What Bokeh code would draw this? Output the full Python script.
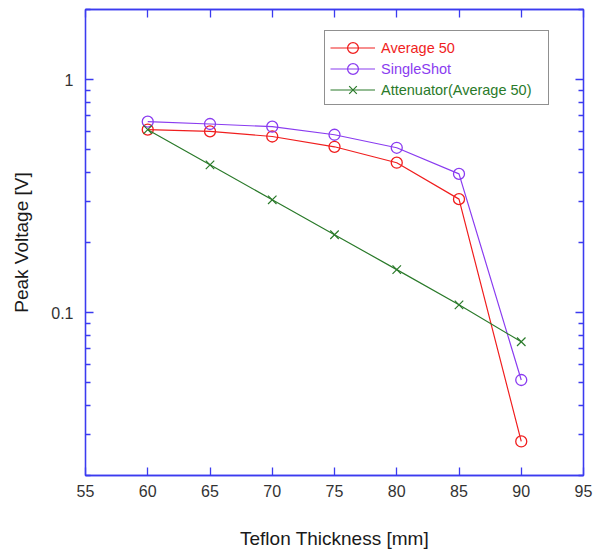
from bokeh.plotting import figure
from bokeh.models import (Range1d, LinearAxis, LogAxis, FixedTicker, Legend,
                          LegendItem, CustomJSTickFormatter)
from bokeh.embed import file_html
from bokeh.resources import INLINE

# ---- data ----
thickness = [60, 65, 70, 75, 80, 85, 90]
average50 = [0.61, 0.60, 0.57, 0.515, 0.44, 0.307, 0.028]
single_shot = [0.66, 0.645, 0.628, 0.58, 0.51, 0.394, 0.0514]
attenuator = [0.61, 0.431, 0.305, 0.216, 0.153, 0.108, 0.075]

x_ticks = [55, 60, 65, 70, 75, 80, 85, 90, 95]
y_major = [0.1, 1]
y_minor = [0.02, 0.03, 0.04, 0.05, 0.06, 0.07, 0.08, 0.09,
           0.2, 0.3, 0.4, 0.5, 0.6, 0.7, 0.8, 0.9, 2]

labels = ["Average 50", "SingleShot", "Attenuator(Average 50)"]

AXIS = "#3b3bf0"
RED = "#f01e1e"
PURPLE = "#8a3cf0"
GREEN = "#2a7a2a"
TICKTXT = "#333333"
FONT = "Liberation Sans"

p = figure(width=593, height=551, x_range=Range1d(55, 95), y_range=Range1d(0.02, 2),
           y_axis_type="log", output_backend="svg", toolbar_location=None,
           min_border_left=85, min_border_right=10, min_border_top=9, min_border_bottom=76)
p.grid.visible = False
p.outline_line_color = AXIS
p.outline_line_width = 1.3
p.background_fill_color = "white"
p.border_fill_color = "white"


def style_axis(ax, show_labels):
    ax.axis_line_color = AXIS
    ax.axis_line_width = 1.3
    ax.major_tick_line_color = AXIS
    ax.major_tick_line_width = 1.3
    ax.minor_tick_line_color = AXIS
    ax.minor_tick_line_width = 1.3
    ax.major_tick_in = 8
    ax.major_tick_out = 0
    ax.minor_tick_in = 5
    ax.minor_tick_out = 0
    if show_labels:
        ax.major_label_text_font = FONT
        ax.major_label_text_font_size = "16px"
        ax.major_label_text_color = TICKTXT
    else:
        ax.formatter = CustomJSTickFormatter(code="return ''")
        ax.major_label_text_font_size = "1px"
        ax.major_label_standoff = 0


xt = FixedTicker(ticks=x_ticks, minor_ticks=[])
yt = FixedTicker(ticks=y_major, minor_ticks=y_minor)
fmt = CustomJSTickFormatter(code="return String(tick)")

xa = p.xaxis[0]
xa.ticker = xt
style_axis(xa, True)
xa.major_label_standoff = 9
xa.axis_label = "Teflon Thickness [mm]"
xa.axis_label_text_font = FONT
xa.axis_label_text_font_size = "19px"
xa.axis_label_text_font_style = "normal"
xa.axis_label_text_color = "#1a1a1a"
xa.axis_label_standoff = 28

ya = p.yaxis[0]
ya.ticker = yt
ya.formatter = fmt
style_axis(ya, True)
ya.major_label_standoff = 12
ya.axis_label = "Peak Voltage [V]"
ya.axis_label_text_font = FONT
ya.axis_label_text_font_size = "19px"
ya.axis_label_text_font_style = "normal"
ya.axis_label_text_color = "#1a1a1a"
ya.axis_label_standoff = 16

top_ax = LinearAxis(ticker=FixedTicker(ticks=x_ticks, minor_ticks=[]))
style_axis(top_ax, False)
p.add_layout(top_ax, "above")

right_ax = LogAxis(ticker=FixedTicker(ticks=y_major, minor_ticks=y_minor))
style_axis(right_ax, False)
p.add_layout(right_ax, "right")

# ---- series ----
l1 = p.line(thickness, average50, line_color=RED, line_width=1.2)
m1 = p.scatter(thickness, average50, marker="circle", size=11, line_color=RED,
               fill_color=None, line_width=1.3)
l2 = p.line(thickness, single_shot, line_color=PURPLE, line_width=1.2)
m2 = p.scatter(thickness, single_shot, marker="circle", size=11, line_color=PURPLE,
               fill_color=None, line_width=1.3)
l3 = p.line(thickness, attenuator, line_color=GREEN, line_width=1.2)
m3 = p.scatter(thickness, attenuator, marker="x", size=12, line_color=GREEN,
               line_width=1.2)

# invisible helper renderer for the legend frame
frame_r = p.line(thickness, average50, line_alpha=0)

groups = [[l1, m1], [l2, m2], [l3, m3]]
colors = [RED, PURPLE, GREEN]

main = Legend(items=[LegendItem(label=lab, renderers=[frame_r]) for lab in labels],
              location=(239, 370), padding=6, spacing=2, glyph_width=45, glyph_height=19,
              label_height=19, label_width=160, label_standoff=6,
              label_text_font=FONT, label_text_font_size="14.5px", label_text_alpha=0,
              border_line_color="#222222", border_line_width=1.2,
              background_fill_color="white", background_fill_alpha=1, margin=0)
p.add_layout(main)

for i, (lab, g, c) in enumerate(zip(labels, groups, colors)):
    leg = Legend(items=[LegendItem(label=lab, renderers=g)],
                 location=(245, 414 - 21 * i), padding=0, spacing=0, glyph_width=45,
                 glyph_height=27, label_height=27, label_standoff=6,
                 label_text_font=FONT, label_text_font_size="14.5px", label_text_color=c,
                 border_line_color=None, background_fill_alpha=0, margin=0)
    p.add_layout(leg)

open("out.html", "w").write(file_html(p, INLINE))
